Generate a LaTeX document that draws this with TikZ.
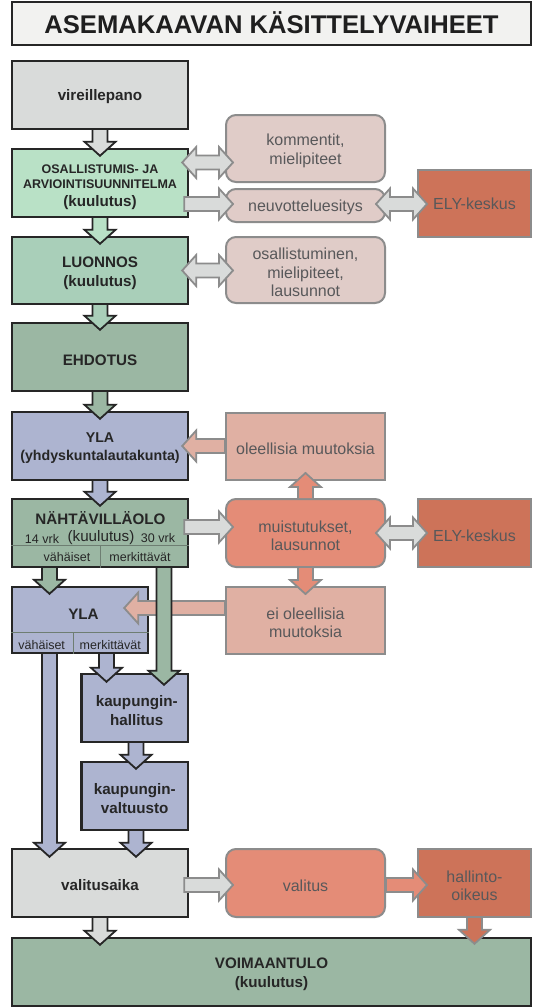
\documentclass[tikz,border=0pt]{standalone}
\usepackage{fontspec}
\setmainfont{Liberation Sans}
\usetikzlibrary{calc}
\definecolor{cTitle}{HTML}{F2F2F0}
\definecolor{cGray}{HTML}{D9DBDA}
\definecolor{cOsa}{HTML}{B9E1C6}
\definecolor{cLuo}{HTML}{A9CFB9}
\definecolor{cGreen}{HTML}{9BB7A3}
\definecolor{cBlue}{HTML}{ADB4D0}
\definecolor{cPink}{HTML}{E0CCC8}
\definecolor{cRose}{HTML}{E0B0A3}
\definecolor{cSalmon}{HTML}{E48C77}
\definecolor{cBrick}{HTML}{CD7359}
\definecolor{cBorder}{HTML}{262626}
\definecolor{cSide}{HTML}{8C8C8C}
\definecolor{cText}{HTML}{58585A}
\definecolor{cDiv}{HTML}{6E7E72}
\newcommand{\fmain}{\fontsize{15.2}{18.5}\selectfont\bfseries}
\newcommand{\fside}{\fontsize{16}{18.3}\selectfont}
\newcommand{\fsmall}{\fontsize{12.5}{15}\selectfont}
% block arrows
\newcommand{\ArrDown}[3]{\path[#1] let \p1=(#2),\p2=(#3) in
 (\x1-7.5pt,\y1) -- (\x1-7.5pt,\y2+14pt) -- (\x1-15.5pt,\y2+14pt) -- (\x1,\y2) -- (\x1+15.5pt,\y2+14pt) -- (\x1+7.5pt,\y2+14pt) -- (\x1+7.5pt,\y1);}
\newcommand{\ArrUp}[3]{\path[#1] let \p1=(#2),\p2=(#3) in
 (\x1-7.5pt,\y1) -- (\x1-7.5pt,\y2-14pt) -- (\x1-15.5pt,\y2-14pt) -- (\x1,\y2) -- (\x1+15.5pt,\y2-14pt) -- (\x1+7.5pt,\y2-14pt) -- (\x1+7.5pt,\y1);}
\newcommand{\ArrRight}[3]{\path[#1] let \p1=(#2),\p2=(#3) in
 (\x1,\y1+7pt) -- (\x2-14pt,\y1+7pt) -- (\x2-14pt,\y1+15.5pt) -- (\x2,\y1) -- (\x2-14pt,\y1-15.5pt) -- (\x2-14pt,\y1-7pt) -- (\x1,\y1-7pt) -- cycle;}
\newcommand{\ArrLeft}[3]{\path[#1] let \p1=(#2),\p2=(#3) in
 (\x1,\y1+7pt) -- (\x2+14pt,\y1+7pt) -- (\x2+14pt,\y1+15.5pt) -- (\x2,\y1) -- (\x2+14pt,\y1-15.5pt) -- (\x2+14pt,\y1-7pt) -- (\x1,\y1-7pt) -- cycle;}
\newcommand{\ArrLR}[3]{\path[#1] let \p1=(#2),\p2=(#3) in
 (\x1,\y1) -- (\x1+14pt,\y1+15.5pt) -- (\x1+14pt,\y1+7pt) -- (\x2-14pt,\y1+7pt) -- (\x2-14pt,\y1+15.5pt) -- (\x2,\y1) -- (\x2-14pt,\y1-15.5pt) -- (\x2-14pt,\y1-7pt) -- (\x1+14pt,\y1-7pt) -- (\x1+14pt,\y1-15.5pt) -- cycle;}
\begin{document}
\begin{tikzpicture}[x=1pt,y=-1pt,
  mainbox/.style={draw=cBorder, line width=2.4pt, inner sep=0pt},
  sidebox/.style={draw=cSide, line width=2pt, inner sep=0pt},
  roundbox/.style={sidebox, rounded corners=10pt},
  lab/.style={inner sep=0pt, text=cBorder, align=center},
  mtext/.style={lab, font=\fmain},
  stext/.style={inner sep=0pt, align=center, text=cText, font=\fside},
  arrmain/.style={draw=cBorder, line width=1.8pt, line join=miter},
  arrside/.style={draw=cSide, line width=1.8pt, line join=miter},
  divline/.style={draw=cDiv, line width=1pt}]
\fill[white] (0,0) rectangle (556,1007);
\useasboundingbox (0,0) rectangle (556,1007);

% title
\node[draw=cBorder, line width=2.4pt, fill=cTitle, minimum width=519pt, minimum height=43pt, inner sep=0pt] (title) at (271.5,23.5) {};
\node[inner sep=0pt, font=\fontsize{25.6}{28}\selectfont\bfseries, text=black!88] (titlet) at ([yshift=1pt]title.center) {ASEMAKAAVAN KÄSITTELYVAIHEET};

% main column boxes
\node[mainbox, fill=cGray, minimum width=176pt, minimum height=68pt] (vir) at (100,95) {};
\node[mainbox, fill=cOsa, minimum width=176pt, minimum height=68pt] (osa) at (100,183) {};
\node[mainbox, fill=cLuo, minimum width=176pt, minimum height=67pt] (luo) at (100,270.5) {};
\node[mainbox, fill=cGreen, minimum width=176pt, minimum height=68pt] (ehd) at (100,357) {};
\node[mainbox, fill=cBlue, minimum width=176pt, minimum height=68pt] (yla) at (100,446) {};
\node[mainbox, fill=cGreen, minimum width=176pt, minimum height=68pt] (nah) at (100,533) {};
\node[mainbox, fill=cBlue, minimum width=136pt, minimum height=66pt] (yla2) at (80,620) {};
\node[mainbox, fill=cBlue, minimum width=106.5pt, minimum height=68pt] (kh) at (134.75,708) {};
\node[mainbox, fill=cBlue, minimum width=106.5pt, minimum height=68pt] (kv) at (134.75,796) {};
\node[mainbox, fill=cGray, minimum width=176pt, minimum height=68pt] (val) at (100,883) {};
\node[mainbox, fill=cGreen, minimum width=519pt, minimum height=68pt] (voi) at (271.5,972) {};

% main texts
\node[mtext] (virt) at ([yshift=-2pt]vir.center) {vireillepano};
\node[lab, font=\fontsize{12.5}{15}\selectfont\bfseries] (osat) at (100,176.5) {OSALLISTUMIS- JA\\ARVIOINTISUUNNITELMA};
\node[mtext] (osak) at (100,203) {(kuulutus)};
\node[mtext] (luot) at ([yshift=-3pt]luo.center) {LUONNOS\\(kuulutus)};
\node[mtext] (ehdt) at ([yshift=-3pt]ehd.center) {EHDOTUS};
\node[lab, font=\fontsize{14.2}{18}\selectfont\bfseries] (ylat) at ([yshift=-2.5pt]yla.center) {YLA\\(yhdyskuntalautakunta)};
\node[mtext] (naht) at (100.5,518) {NÄHTÄVILLÄOLO};
\node[lab, font=\fsmall] (n14) at (42,538.5) {14 vrk};
\node[lab, font=\fontsize{15.2}{18}\selectfont] (nkuu) at (101,537.5) {(kuulutus)};
\node[lab, font=\fsmall] (n30) at (158,538.5) {30 vrk};
\node[lab, font=\fsmall] (nvah) at (67,557) {vähäiset};
\node[lab, font=\fsmall] (nmer) at (140,557) {merkittävät};
\draw[divline] (nah.west |- 0,545) -- (nah.east |- 0,545);
\draw[divline] (100,545) -- (100,0 |- nah.south);
\node[mtext] (yla2t) at (83.5,614.5) {YLA};
\node[lab, font=\fsmall] (yvah) at (41.7,645.5) {vähäiset};
\node[lab, font=\fsmall] (ymer) at (110.3,645.5) {merkittävät};
\draw[divline] (yla2.west |- 0,632) -- (yla2.east |- 0,632);
\draw[divline] (73.5,632) -- (73.5,0 |- yla2.south);
\node[mtext] (kht) at ([xshift=2pt,yshift=-2.5pt]kh.center) {kaupungin-\\hallitus};
\node[mtext] (kvt) at ([yshift=-2.5pt]kv.center) {kaupungin-\\valtuusto};
\node[mtext] (valt) at ([yshift=-2.5pt]val.center) {valitusaika};
\node[mtext] (voit) at ([yshift=-2.5pt]voi.center) {VOIMAANTULO\\(kuulutus)};

% side column
\node[roundbox, fill=cPink, minimum width=159pt, minimum height=67pt] (kom) at (305.5,148.5) {};
\node[roundbox, fill=cPink, minimum width=159pt, minimum height=33pt] (neu) at (305.5,205.5) {};
\node[roundbox, fill=cPink, minimum width=159pt, minimum height=66pt] (osl) at (305.5,270) {};
\node[sidebox, fill=cRose, minimum width=159pt, minimum height=67pt] (ole) at (305.5,446.5) {};
\node[roundbox, fill=cSalmon, minimum width=159pt, minimum height=68pt] (mui) at (305.5,533) {};
\node[sidebox, fill=cRose, minimum width=159pt, minimum height=67pt] (eio) at (305.5,620.5) {};
\node[roundbox, fill=cSalmon, minimum width=159pt, minimum height=68pt] (vls) at (305.5,883) {};
\node[sidebox, fill=cBrick, minimum width=113pt, minimum height=67pt] (ely1) at (474.5,203.5) {};
\node[sidebox, fill=cBrick, minimum width=113pt, minimum height=68pt] (ely2) at (474.5,533) {};
\node[sidebox, fill=cBrick, minimum width=113pt, minimum height=68pt] (hal) at (474.5,883) {};

\node[stext] (komt) at ([yshift=-2.5pt]kom.center) {kommentit,\\mielipiteet};
\node[stext] (neut) at ([yshift=-1.5pt]neu.center) {neuvotteluesitys};
\node[stext] (oslt) at ([yshift=-2.5pt]osl.center) {osallistuminen,\\mielipiteet,\\lausunnot};
\node[stext] (olet) at ([yshift=-2pt]ole.center) {oleellisia muutoksia};
\node[stext] (muit) at ([yshift=-2.5pt]mui.center) {muistutukset,\\lausunnot};
\node[stext] (eiot) at ([yshift=-2.5pt]eio.center) {ei oleellisia\\muutoksia};
\node[stext] (vlst) at ([yshift=-2.5pt]vls.center) {valitus};
\node[stext] (ely1t) at ([yshift=0pt]ely1.center) {ELY-keskus};
\node[stext] (ely2t) at ([yshift=-2.5pt]ely2.center) {ELY-keskus};
\node[stext] (halt) at ([yshift=-2.5pt]hal.center) {hallinto-\\oikeus};

% side arrows
\ArrLR{arrside,fill=cGray}{[xshift=-7pt]osa.east |- 0,162.5}{[xshift=8pt]kom.west |- 0,162.5}
\ArrRight{arrside,fill=cGray}{[xshift=-5pt]osa.east |- 0,204}{[xshift=8pt]neu.west |- 0,204}
\ArrLR{arrside,fill=cGray}{[xshift=-10pt]neu.east |- 0,204}{[xshift=10pt]ely1.west |- 0,204}
\ArrLR{arrside,fill=cGray}{[xshift=-7pt]luo.east}{[xshift=8pt]osl.west |- luo.center}
\ArrLeft{arrside,fill=cRose}{ole.west |- yla.center}{[xshift=-7pt]yla.east}
\ArrRight{arrside,fill=cGray}{[xshift=-5pt]nah.east |- 0,527}{[xshift=8pt]mui.west |- 0,527}
\ArrLR{arrside,fill=cGray}{[xshift=-10pt]mui.east}{[xshift=10pt]ely2.west}
\ArrUp{arrside,fill=cSalmon}{mui.north}{[yshift=8pt]ole.south}
\ArrDown{arrside,fill=cSalmon}{mui.south}{[yshift=-8pt]eio.north}
\ArrLeft{arrside,fill=cRose}{eio.west |- 0,608}{[xshift=-25pt]yla2.east |- 0,608}
\ArrRight{arrside,fill=cGray}{[xshift=-5pt]val.east |- 0,885}{[xshift=8pt]vls.west |- 0,885}
\ArrRight{arrside,fill=cSalmon}{vls.east |- 0,885}{[xshift=10pt]hal.west |- 0,885}
\ArrDown{arrside,fill=cBrick}{hal.south}{[yshift=-7pt]voi.north}

% main arrows
\ArrDown{arrmain,fill=cGray}{vir.south}{[yshift=-8pt]osa.north}
\ArrDown{arrmain,fill=cOsa}{osa.south}{[yshift=-8pt]luo.north}
\ArrDown{arrmain,fill=cLuo}{luo.south}{[yshift=-8pt]ehd.north}
\ArrDown{arrmain,fill=cGreen}{ehd.south}{[yshift=-8pt]yla.north}
\ArrDown{arrmain,fill=cBlue}{yla.south}{[yshift=-8pt]nah.north}
\ArrDown{arrmain,fill=cGreen}{49.5,0 |- nah.south}{[yshift=-8pt]yla2.north}
\ArrDown{arrmain,fill=cGreen}{164,0 |- nah.south}{[yshift=-12pt]kh.north}
\ArrDown{arrmain,fill=cBlue}{49.5,0 |- yla2.south}{[yshift=-9pt]val.north}
\ArrDown{arrmain,fill=cBlue}{106.5,0 |- yla2.south}{[yshift=-9pt]kh.north}
\ArrDown{arrmain,fill=cBlue}{136,0 |- kh.south}{[yshift=-8pt]kv.north}
\ArrDown{arrmain,fill=cBlue}{136,0 |- kv.south}{[yshift=-9pt]val.north}
\ArrDown{arrmain,fill=cGray}{val.south}{[yshift=-8pt]voi.north}
\end{tikzpicture}
\end{document}
